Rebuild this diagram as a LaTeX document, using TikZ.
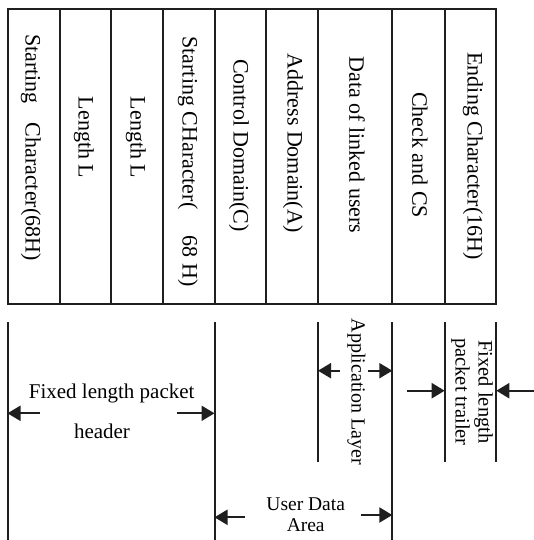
\documentclass[tikz,border=0pt]{standalone}
\usepackage{fontspec}
\setmainfont{Liberation Serif}
\usetikzlibrary{arrows.meta}
\begin{document}
\begin{tikzpicture}[x=1pt,y=-1pt,
  line/.style={line width=2pt,black!88},
  arr/.style={line width=2.2pt,black!88,-{Triangle[length=13pt,width=15pt]}},
  coltext/.style={rotate=-90,font=\fontsize{22}{24}\selectfont,inner sep=0pt},
  lbl/.style={font=\fontsize{21}{18}\selectfont,inner sep=0pt,align=center}]
\useasboundingbox (0,0) rectangle (534,540);
% frame
\draw[line] (7.5,9) rectangle (496.3,304);
\foreach \x/\n in {59.5/a,111/b,163/c,214.5/d,265.7/e,318/f,392.3/g,444.7/h}{
  \draw[line] (\x,9) -- (\x,304);
}
% column texts
\node[coltext] (c1) at (31,147.5) {Starting\hspace{0.6em} Character(68H)};
\node[coltext] (c2) at (84,137.5) {Length L};
\node[coltext] (c3) at (136,137.5) {Length L};
\node[coltext] (c4) at (188,161.5) {Starting CHaracter(\hspace{1.2em}68 H)};
\node[coltext] (c5) at (239,145.5) {Control Domain(C)};
\node[coltext] (c6) at (293,143) {Address Domain(A)};
\node[coltext] (c7) at (357,145) {Data of linked users};
\node[coltext] (c8) at (420,155) {Check and CS};
\node[coltext] (c9) at (473,156) {Ending Character(16H)};
% lower guide lines
\coordinate (l0t) at (7.5,322); \coordinate (l0b) at (7.5,540);
\coordinate (l1t) at (214.5,322); \coordinate (l1b) at (214.5,540);
\coordinate (l2t) at (318,322); \coordinate (l2b) at (318,462);
\coordinate (l3t) at (392.3,322); \coordinate (l3b) at (392.3,540);
\coordinate (l4t) at (444.7,322); \coordinate (l4b) at (444.7,462);
\coordinate (l5t) at (496.3,322); \coordinate (l5b) at (496.3,462);
\foreach \i in {0,...,5}{ \draw[line] (l\i t) -- (l\i b); }
% header
\node[lbl] (hdr1) at (111.7,393) {Fixed length packet};
\node[lbl] (hdr2) at (102,431.7) {header};
\coordinate (ha) at (40,413.3); \coordinate (hat) at (7.5,413.3);
\coordinate (hb) at (177,413.3); \coordinate (hbt) at (214.5,413.3);
\draw[arr] (ha) -- (hat);
\draw[arr] (hb) -- (hbt);
% user data area
\node[lbl,font=\fontsize{19.5}{18}\selectfont,text height=13pt,text depth=0pt] (ud1) at (305.7,504) {User Data};
\node[lbl,font=\fontsize{19.5}{18}\selectfont,text height=13pt,text depth=0pt] (ud2) at (305.7,524.5) {Area};
\coordinate (ua) at (245,517.3); \coordinate (uat) at (214.5,517.3);
\coordinate (ub) at (360.7,515); \coordinate (ubt) at (392.3,515);
\draw[arr] (ua) -- (uat);
\draw[arr] (ub) -- (ubt);
% application layer
\node[lbl,rotate=-90,font=\fontsize{20}{18}\selectfont] (app) at (356.5,392) {Application Layer};
\coordinate (aa) at (340,370.7); \coordinate (aat) at (318,370.7);
\coordinate (ab) at (368,370.7); \coordinate (abt) at (392.3,370.7);
\draw[arr] (aa) -- (aat);
\draw[arr] (ab) -- (abt);
% trailer
\node[lbl,rotate=-90,font=\fontsize{20.5}{23}\selectfont] (trl) at (472,392) {Fixed length\\packet trailer};
\coordinate (ta) at (406.7,390.7); \coordinate (tat) at (444.7,390.7);
\coordinate (tb) at (534,390.7); \coordinate (tbt) at (496.3,390.7);
\draw[arr] (ta) -- (tat);
\draw[arr] (tb) -- (tbt);
\end{tikzpicture}
\end{document}
